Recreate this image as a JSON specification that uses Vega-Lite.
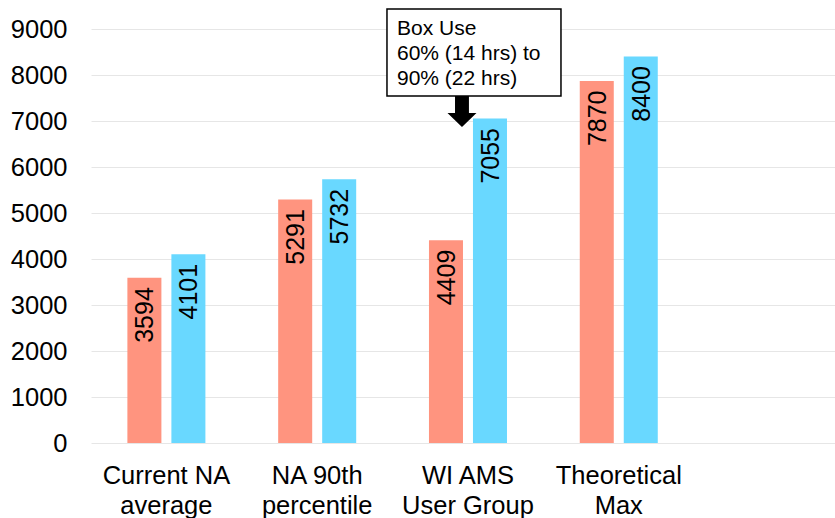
{
  "$schema": "https://vega.github.io/schema/vega-lite/v6.json",
  "autosize": {"type": "none"},
  "padding": {"left": 91, "top": 29, "right": 0, "bottom": 75},
  "width": 744,
  "height": 414,
  "background": "white",
  "config": {
    "view": {"stroke": null},
    "font": "Liberation Sans"
  },
  "datasets": {
    "bars": [
      {"group": "Current NA average", "series": "Series 1", "value": 3594},
      {"group": "Current NA average", "series": "Series 2", "value": 4101},
      {"group": "NA 90th percentile", "series": "Series 1", "value": 5291},
      {"group": "NA 90th percentile", "series": "Series 2", "value": 5732},
      {"group": "WI AMS User Group", "series": "Series 1", "value": 4409},
      {"group": "WI AMS User Group", "series": "Series 2", "value": 7055},
      {"group": "Theoretical Max", "series": "Series 1", "value": 7870},
      {"group": "Theoretical Max", "series": "Series 2", "value": 8400}
    ],
    "note": [
      {"group": "WI AMS User Group", "top": 9435, "bottom": 7543, "arrow": 7207, "textpos": 9239, "label": "Box Use\n60% (14 hrs) to\n90% (22 hrs)"}
    ]
  },
  "layer": [
    {
      "data": {"name": "bars"},
      "mark": {"type": "bar"},
      "encoding": {
        "x": {
          "field": "group", "type": "nominal", "sort": null,
          "scale": {"paddingInner": 0, "paddingOuter": 0.467, "align": 0},
          "axis": {
            "title": null, "domain": false, "ticks": false, "tickSize": 0,
            "labelAngle": 0, "labelPadding": 20, "labelFontSize": 25.5,
            "labelColor": "#000000", "labelLineHeight": 30, "labelBaseline": "top",
            "labelExpr": "datum.label == 'Current NA average' ? ['Current NA','average'] : datum.label == 'NA 90th percentile' ? ['NA 90th','percentile'] : datum.label == 'WI AMS User Group' ? ['WI AMS','User Group'] : ['Theoretical','Max']"
          }
        },
        "xOffset": {
          "field": "series", "type": "nominal",
          "scale": {"paddingInner": 0.227, "paddingOuter": 0.827}
        },
        "y": {
          "field": "value", "type": "quantitative",
          "scale": {"domain": [0, 9000], "nice": false},
          "axis": {
            "title": null, "domain": false, "ticks": false, "tickSize": 0,
            "values": [0, 1000, 2000, 3000, 4000, 5000, 6000, 7000, 8000, 9000],
            "format": "d", "labelFontSize": 25.5, "labelColor": "#000000",
            "labelPadding": 24, "labelFlush": false, "labelOverlap": false,
            "gridColor": "#e6e6e6", "gridWidth": 1
          }
        },
        "color": {
          "field": "series", "type": "nominal",
          "scale": {"domain": ["Series 1", "Series 2"], "range": ["#FF947F", "#69D8FF"]},
          "legend": null
        }
      }
    },
    {
      "data": {"name": "bars"},
      "mark": {"type": "text", "angle": 270, "align": "right", "baseline": "middle", "dx": -9.5, "dy": 1, "fontSize": 25, "color": "#000000"},
      "encoding": {
        "x": {"field": "group", "type": "nominal", "sort": null},
        "xOffset": {"field": "series", "type": "nominal"},
        "y": {"field": "value", "type": "quantitative"},
        "text": {"field": "value", "type": "quantitative", "format": "d"}
      }
    },
    {
      "data": {"name": "note"},
      "mark": {"type": "bar", "width": 174, "xOffset": 6, "fill": "#ffffff", "stroke": "#000000", "strokeWidth": 1.5},
      "encoding": {
        "x": {"field": "group", "type": "nominal", "sort": null},
        "y": {"field": "top", "type": "quantitative"},
        "y2": {"field": "bottom"}
      }
    },
    {
      "data": {"name": "note"},
      "mark": {"type": "text", "align": "left", "baseline": "top", "xOffset": -71, "fontSize": 21, "lineHeight": 25, "lineBreak": "\n", "color": "#000000"},
      "encoding": {
        "x": {"field": "group", "type": "nominal", "sort": null},
        "y": {"field": "textpos", "type": "quantitative"},
        "text": {"field": "label", "type": "nominal"}
      }
    },
    {
      "data": {"name": "note"},
      "mark": {"type": "point", "filled": true, "opacity": 1, "color": "#000000", "size": 841, "xOffset": -6,
        "shape": "M-0.48,-1.07 L0.48,-1.07 L0.48,0.1 L1,0.1 L0,1.07 L-1,0.1 L-0.48,0.1 Z"},
      "encoding": {
        "x": {"field": "group", "type": "nominal", "sort": null},
        "y": {"field": "arrow", "type": "quantitative"}
      }
    }
  ]
}
